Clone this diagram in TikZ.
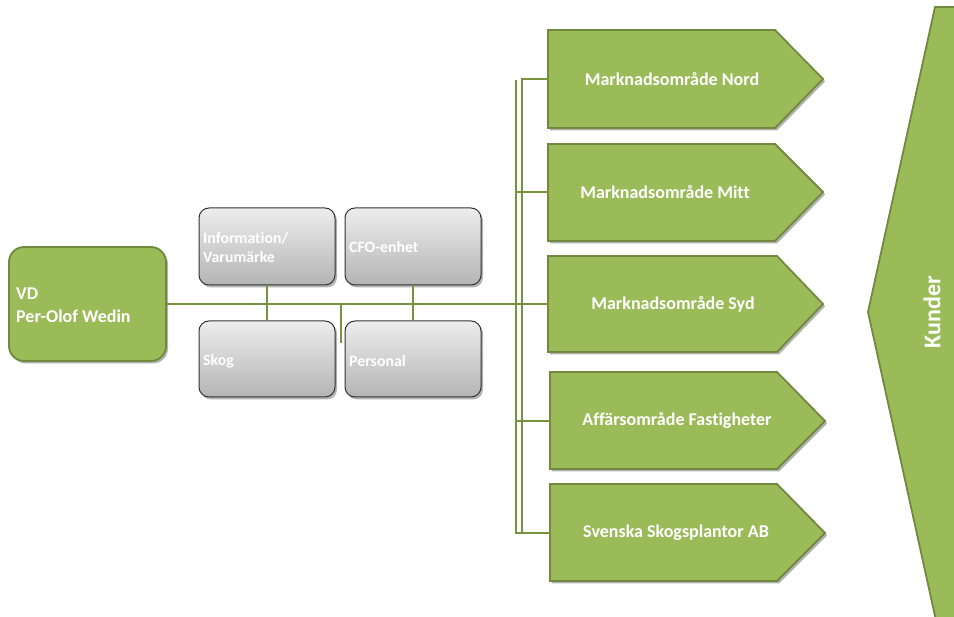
\documentclass[tikz,border=0pt]{standalone}
\usepackage{fontspec}
\setmainfont{Carlito}[Ligatures={NoCommon,NoContextual}]
\usetikzlibrary{shadows}
\definecolor{gfill}{HTML}{9BBB59}
\definecolor{gline}{HTML}{77933C}
\definecolor{gborder}{HTML}{71893F}
\definecolor{gtop}{HTML}{EDEDED}
\definecolor{gbot}{HTML}{B4B4B4}
\begin{document}
\begin{tikzpicture}[x=1pt,y=-1pt,
  conn/.style={draw=gline,line width=2.8pt},
  greenshape/.style={fill=gfill,draw=gborder,line width=1.8pt,line join=miter,
    drop shadow={shadow xshift=2pt,shadow yshift=-2.5pt,opacity=0.3,fill=black}},
  graybox/.style={draw=black!80,line width=1pt,rounded corners=10pt,
    top color=gtop,bottom color=gbot,minimum width=136pt,minimum height=77pt,inner sep=0pt,
    drop shadow={shadow xshift=2pt,shadow yshift=-2.5pt,opacity=0.3,fill=black}},
  vdbox/.style={fill=gfill,draw=gborder,line width=1.8pt,rounded corners=15pt,
    minimum width=157pt,minimum height=114pt,inner sep=0pt,
    drop shadow={shadow xshift=2pt,shadow yshift=-2.5pt,opacity=0.3,fill=black}},
  wtext/.style={text=white,font=\bfseries\fontsize{18}{23}\selectfont,inner sep=0pt},
  gtext/.style={text=white,font=\bfseries\fontsize{15.8}{19}\selectfont,inner sep=0pt,anchor=west,align=left},
]
\useasboundingbox (0,0) rectangle (954,617);
\clip (0,0) rectangle (954,617);

% Kunder
\path[greenshape] (935,7) -- (975,7) -- (975,625) -- (937,625) -- (868,312) -- cycle;
\node[wtext,font=\bfseries\fontsize{24}{28}\selectfont,rotate=90] (kunder) at (932,312) {Kunder};

% pentagons
\path[greenshape] (548,30) -- (775,30) -- (823,79) -- (775,128) -- (548,128) -- cycle;
\path[greenshape] (548,144) -- (775,144) -- (823,192) -- (775,241) -- (548,241) -- cycle;
\path[greenshape] (548,256) -- (777,256) -- (823,304) -- (777,352) -- (548,352) -- cycle;
\path[greenshape] (550,372) -- (777,372) -- (825,421) -- (777,469) -- (550,469) -- cycle;
\path[greenshape] (550,484) -- (777,484) -- (825,533) -- (777,581) -- (550,581) -- cycle;
\coordinate (nordW) at (548,79);
\coordinate (mittW) at (548,192);
\coordinate (sydW) at (548,304);
\coordinate (fastW) at (550,421);
\coordinate (ssaW) at (550,533);
\node[wtext] (nord) at (672,79) {Marknadsområde Nord};
\node[wtext] (mitt) at (665,192) {Marknadsområde Mitt};
\node[wtext] (syd) at (673,304) {Marknadsområde Syd};
\node[wtext] (fast) at (677,421) {Affärsområde Fastigheter};
\node[wtext] (ssa) at (676,533) {Svenska Skogsplantor AB};

% VD
\node[vdbox] (vd) at (87.5,304) {};
\node[wtext,anchor=west,align=left] (vdt) at (16,305.5) {VD\\Per-Olof Wedin};

% gray boxes
\node[graybox] (info) at (267,246.5) {};
\node[graybox] (cfo) at (413,246.5) {};
\node[graybox,minimum height=76pt] (skog) at (267,359) {};
\node[graybox,minimum height=76pt] (pers) at (413,359) {};
\node[gtext] (infot) at (203,247.5) {Information/\\Varumärke};
\node[gtext] (cfot) at (349,247) {CFO-enhet};
\node[gtext] (skogt) at (203,361) {Skog};
\node[gtext] (perst) at (349,361) {Personal};

% connectors
\coordinate (stubA) at (341,304);
\coordinate (stubB) at (341,343);
\coordinate (busB) at (516,80);
\draw[conn] (vd.east) -- (sydW);
\draw[conn] (info.south) -- (skog.north);
\draw[conn] (cfo.south) -- (pers.north);
\draw[conn] (stubA) -- (stubB);
\draw[conn] (nordW) -| (522,533) -- (ssaW);
\draw[conn] (busB) |- (ssaW);
\draw[conn] (516,192) -- (mittW);
\draw[conn] (516,421) -- (fastW);
\end{tikzpicture}
\end{document}
